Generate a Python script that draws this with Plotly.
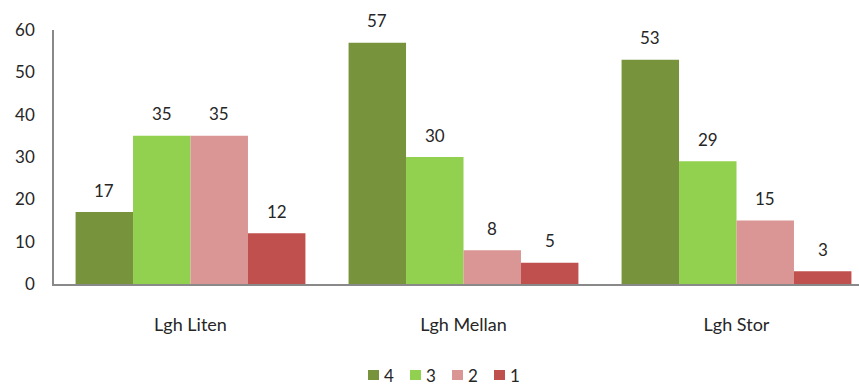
import plotly.graph_objects as go

categories = ["Lgh Liten", "Lgh Mellan", "Lgh Stor"]
series_names = ["4", "3", "2", "1"]
values_4 = [17, 57, 53]
values_3 = [35, 30, 29]
values_2 = [35, 8, 15]
values_1 = [12, 5, 3]
colors = ["#77933C", "#92D050", "#D99694", "#C0504D"]

W, H = 859, 385
ml, mr, mt, mb = 54, 0, 30, 101
unit = 273.0
bargap = 0.158
bar_px = unit * (1 - bargap) / 4
plot_w = W - ml - mr
plot_h = H - mt - mb
txt = "#262626"

all_vals = [values_4, values_3, values_2, values_1]
fig = go.Figure()
annotations = []
shapes = []
for i, (name, vals, c) in enumerate(zip(series_names, all_vals, colors)):
    fig.add_trace(go.Bar(
        x=categories, y=vals, name=name, marker_color=c, marker_line_width=0,
        showlegend=False,
    ))
    for cat, v in zip(categories, vals):
        annotations.append(dict(
            x=cat, y=v, xref="x", yref="y", text=str(v), showarrow=False,
            xshift=(i - 1.5) * bar_px, yshift=22, yanchor="middle",
            font=dict(size=17, color=txt),
        ))

# legend (manual, to match compact spacing)
leg_left = [368, 410, 452, 494]
leg_cy = 375
for name, c, lx in zip(series_names, colors, leg_left):
    shapes.append(dict(type="rect", xref="paper", yref="paper",
                       x0=(lx - ml) / plot_w, x1=(lx + 11 - ml) / plot_w,
                       y0=(H - mb - (leg_cy + 5)) / plot_h, y1=(H - mb - (leg_cy - 5)) / plot_h,
                       fillcolor=c, line_width=0))
    annotations.append(dict(x=(lx + 15 - ml) / plot_w, y=(H - mb - leg_cy) / plot_h,
                            xref="paper", yref="paper", text=name, showarrow=False,
                            xanchor="left", yanchor="middle", borderpad=0,
                            font=dict(size=17, color=txt)))

fig.update_layout(
    width=W, height=H,
    margin=dict(l=ml, r=mr, t=mt, b=mb, pad=0, autoexpand=False),
    paper_bgcolor="white", plot_bgcolor="white",
    barmode="group", bargap=bargap, bargroupgap=0,
    font=dict(family="Lato, 'Open Sans', sans-serif", size=17, color=txt),
    showlegend=False,
    annotations=annotations, shapes=shapes,
    xaxis=dict(range=[-0.5, -0.5 + plot_w / unit], showline=True, linecolor="#898989",
               linewidth=1.5, ticks="", showgrid=False, ticklabelstandoff=24,
               tickfont=dict(size=18)),
    yaxis=dict(range=[0, 60], dtick=10, showline=True, linecolor="#898989",
               linewidth=1.5, ticks="", showgrid=False, zeroline=False,
               ticklabelstandoff=14, tickfont=dict(size=17)),
)
fig.write_html("out.html")
